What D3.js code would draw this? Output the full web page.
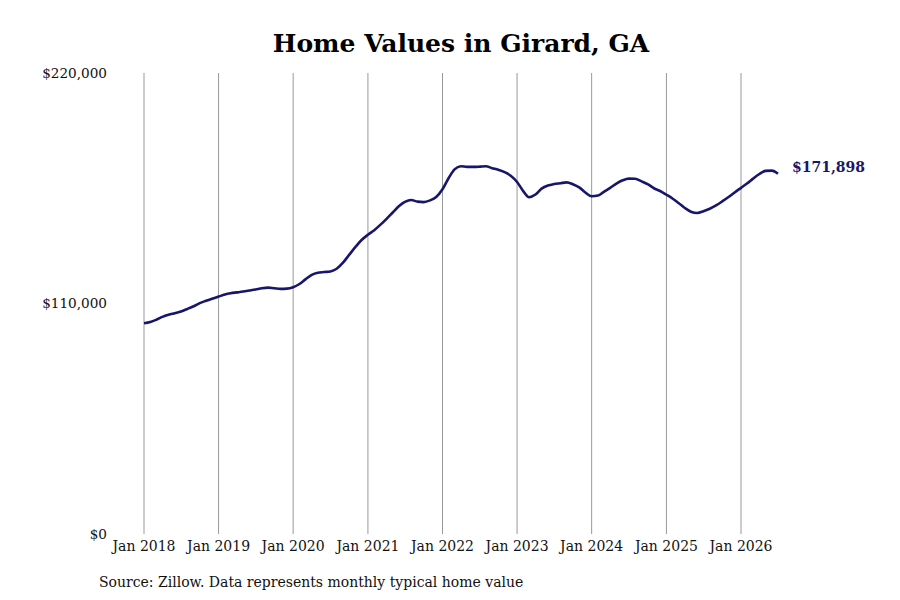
<!DOCTYPE html>
<html>
<head>
<meta charset="utf-8">
<script src="https://cdn.jsdelivr.net/npm/d3@7"></script>
<style>
  body { margin: 0; background: #fff; }
  text { font-family: "DejaVu Serif", serif; }
</style>
</head>
<body>
<div id="chart"></div>
<script>
const W = 900, H = 600;
const lineColor = '#17166b';

// monthly typical home value, Jan 2018 .. Jul 2026
const startYear = 2018, startMonth = 0;
const values = [
  100600,101200,102200,103600,104600,105400,106200,107400,108700,110200,111300,112300,
  113300,114300,114900,115300,115700,116200,116700,117300,117600,117300,117000,117100,
  117800,119300,121500,123700,124700,125000,125300,126600,129500,133200,137000,140300,
  142800,145000,147400,150300,153300,156400,158500,159400,158600,158400,159200,160800,
  164500,170000,174000,175500,175200,175200,175300,175500,174600,173800,172700,171000,
  168000,163500,160700,162000,164800,166300,167000,167400,167800,166900,165400,163000,
  161200,161500,163300,165200,167200,168800,169600,169500,168300,167000,165000,163700,
  161900,160000,158000,155600,153800,153200,154000,155200,156800,158700,160800,163000,
  165200,167400,169600,171800,173300,173400,171898
];
const yTicks = [0, 110000, 220000];
const xTickYears = [2018, 2019, 2020, 2021, 2022, 2023, 2024, 2025, 2026];

const data = values.map((v, i) => ({ date: new Date(startYear, startMonth + i, 1), value: v }));

const svg = d3.select('#chart').append('svg')
  .attr('width', W).attr('height', H);

const x = d3.scaleTime()
  .domain([new Date(2018, 0, 1), new Date(2026, 0, 1)])
  .range([144, 741]);
const y = d3.scaleLinear()
  .domain([0, 220000])
  .range([534, 73]);

// title
svg.append('text')
  .attr('x', 461).attr('y', 52)
  .attr('text-anchor', 'middle')
  .attr('font-size', 25).attr('font-weight', 'bold')
  .attr('fill', '#000')
  .text('Home Values in Girard, GA');

// vertical gridlines
svg.append('g').selectAll('line')
  .data(xTickYears)
  .enter().append('line')
    .attr('x1', d => x(new Date(d, 0, 1)))
    .attr('x2', d => x(new Date(d, 0, 1)))
    .attr('y1', y(220000)).attr('y2', y(0))
    .attr('stroke', '#999').attr('stroke-width', 1);

// y labels
svg.append('g').selectAll('text')
  .data(yTicks)
  .enter().append('text')
    .attr('x', 107)
    .attr('y', d => y(d))
    .attr('dy', '0.35em')
    .attr('text-anchor', 'end')
    .attr('font-size', 13.6)
    .attr('fill', '#111')
    .text(d => d3.format('$,')(d));

// x labels
svg.append('g').selectAll('text')
  .data(xTickYears)
  .enter().append('text')
    .attr('x', d => x(new Date(d, 0, 1)))
    .attr('y', 551)
    .attr('text-anchor', 'middle')
    .attr('font-size', 14)
    .attr('fill', '#111')
    .text(d => 'Jan ' + d);

// line
const line = d3.line()
  .x(d => x(d.date))
  .y(d => y(d.value))
  .curve(d3.curveMonotoneX);

svg.append('path')
  .datum(data)
  .attr('d', line)
  .attr('fill', 'none')
  .attr('stroke', lineColor)
  .attr('stroke-width', 2.6)
  .attr('stroke-linejoin', 'round');

// end label
const last = data[data.length - 1];
svg.append('text')
  .attr('x', x(last.date) + 14)
  .attr('y', y(last.value) - 2)
  .attr('font-size', 14).attr('font-weight', 'bold')
  .attr('fill', lineColor)
  .text(d3.format('$,')(last.value));

// source note
svg.append('text')
  .attr('x', 99).attr('y', 587)
  .attr('font-size', 14)
  .attr('fill', '#111')
  .text('Source: Zillow. Data represents monthly typical home value');
</script>
</body>
</html>
